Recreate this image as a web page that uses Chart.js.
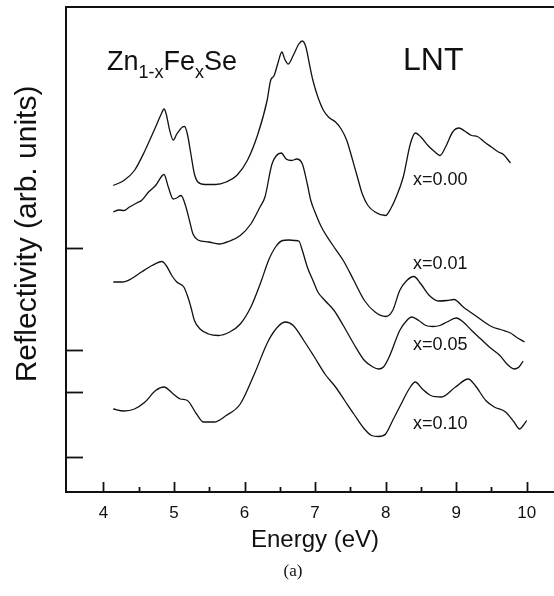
<!DOCTYPE html>
<html>
<head>
<meta charset="utf-8">
<script src="https://cdn.jsdelivr.net/npm/chart.js@4.4.1/dist/chart.umd.min.js"></script>
<style>
  html, body { margin: 0; padding: 0; background: #fff; overflow: hidden; }
  #wrap { width: 554px; height: 596px; overflow: hidden; }
</style>
</head>
<body>
<div id="wrap"><canvas id="reflChart" width="600" height="596"></canvas></div>
<script>
// Energy (eV) and reflectivity (arb. units, curves offset)
const energy00 = [4.14,4.29,4.44,4.59,4.74,4.82,4.86,4.89,4.94,4.99,5.04,5.12,5.15,5.19,5.24,5.29,5.34,5.44,5.59,5.74,5.89,6.04,6.19,6.32,6.37,6.42,6.47,6.53,6.57,6.62,6.69,6.77,6.82,6.87,6.92,6.97,7.04,7.12,7.19,7.29,7.37,7.45,7.52,7.60,7.67,7.75,7.85,8.00,8.07,8.15,8.25,8.35,8.42,8.50,8.60,8.70,8.77,8.85,8.95,9.04,9.12,9.22,9.30,9.40,9.50,9.60,9.67,9.77];
const refl00 = [61.3,62.3,64.3,68.3,73.0,75.6,76.6,75.6,72.3,70.4,71.6,73.0,73.1,71.6,67.6,63.6,62.0,61.5,61.5,62.0,63.3,66.3,71.6,78.3,82.3,83.3,85.6,88.0,86.6,85.6,87.3,89.6,90.2,89.0,85.6,82.3,79.0,76.3,75.0,74.0,72.6,70.3,67.0,63.0,59.6,57.3,56.0,55.3,56.6,59.0,63.0,69.6,71.8,71.0,69.3,68.0,67.3,69.0,72.0,72.8,72.2,71.3,71.1,70.0,69.0,68.0,67.5,65.8];

const energy01 = [4.14,4.22,4.29,4.37,4.47,4.54,4.64,4.74,4.86,4.92,4.99,5.04,5.10,5.17,5.22,5.27,5.34,5.49,5.64,5.79,5.94,6.09,6.22,6.29,6.39,6.52,6.59,6.67,6.74,6.82,6.89,6.94,6.99,7.09,7.24,7.40,7.55,7.70,7.85,8.00,8.10,8.20,8.30,8.40,8.50,8.62,8.75,8.87,8.97,9.10,9.30,9.50,9.65,9.77,9.85,9.97];
const refl01 = [56.0,56.4,56.3,57.0,57.8,58.3,60.0,61.3,63.5,61.0,58.6,58.8,59.3,57.0,54.3,51.6,50.4,50.0,49.6,50.2,51.3,53.6,57.0,59.0,65.6,67.8,66.6,66.3,66.6,65.6,61.6,58.3,56.3,53.0,49.6,46.3,42.3,38.3,36.0,35.1,36.3,40.3,42.3,43.1,41.6,39.3,38.2,38.3,38.5,37.0,35.0,33.1,32.4,31.8,31.0,30.0];

const energy05 = [4.14,4.27,4.39,4.54,4.69,4.83,4.89,4.97,5.04,5.14,5.19,5.24,5.29,5.37,5.49,5.63,5.79,5.94,6.09,6.24,6.34,6.44,6.54,6.62,6.72,6.77,6.82,6.89,6.97,7.04,7.14,7.27,7.40,7.55,7.70,7.82,7.90,7.97,8.05,8.20,8.30,8.37,8.47,8.57,8.67,8.77,8.87,9.00,9.10,9.22,9.35,9.47,9.62,9.72,9.82,9.89,9.95];
const refl05 = [42.0,42.0,42.6,44.0,45.3,46.1,45.3,43.3,42.0,41.0,39.3,37.0,34.3,32.6,31.6,31.3,32.0,33.6,37.0,42.3,46.3,49.0,50.3,50.4,50.3,50.2,48.3,45.0,42.3,40.0,38.3,36.3,33.3,29.6,26.3,25.0,24.6,25.0,27.0,32.3,34.3,35.0,34.3,33.3,33.1,33.3,34.0,34.8,34.0,32.3,30.6,29.0,27.3,25.6,24.6,25.0,26.2];

const energy10 = [4.14,4.29,4.44,4.59,4.74,4.86,4.99,5.09,5.19,5.32,5.42,5.57,5.74,5.94,6.14,6.34,6.49,6.58,6.69,6.84,6.99,7.14,7.29,7.42,7.55,7.70,7.80,7.90,8.00,8.10,8.22,8.35,8.42,8.52,8.64,8.79,8.99,9.17,9.27,9.42,9.54,9.70,9.82,9.90,9.95,10.00];
const refl10 = [16.6,16.2,16.6,18.0,20.3,21.0,19.6,18.6,18.3,15.6,14.0,14.0,15.3,17.6,23.6,30.3,33.3,34.0,33.3,30.3,27.0,23.6,21.0,18.3,15.6,12.6,11.3,11.1,11.6,14.3,17.6,21.0,22.0,20.6,19.3,19.0,21.0,22.6,21.3,18.3,17.0,16.0,14.0,12.6,13.3,14.3];

const seriesLabels = ['x=0.00', 'x=0.01', 'x=0.05', 'x=0.10'];
const xMajorTicks = [4, 5, 6, 7, 8, 9, 10];
const xMinorTicks = [4.5, 5.5, 6.5, 7.5, 8.5, 9.5];
const yMarks = [48.8, 28.4, 20.0, 7.1];

const SANS = '"Liberation Sans", Arial, Helvetica, sans-serif';

function toPoints(xs, ys) {
  const n = Math.min(xs.length, ys.length);
  const pts = [];
  for (let i = 0; i < n; i++) pts.push({ x: xs[i], y: ys[i] });
  return pts;
}

function lineSet(label, xs, ys) {
  return {
    label: label,
    data: toPoints(xs, ys),
    borderColor: '#111',
    borderWidth: 1.3,
    pointRadius: 0,
    fill: false,
    cubicInterpolationMode: 'monotone'
  };
}

// frame, inward ticks and all the text
const frameAndText = {
  id: 'frameAndText',
  afterDraw(chart) {
    const ctx = chart.ctx;
    const area = chart.chartArea;
    const xs = chart.scales.x;
    const ys = chart.scales.y;
    ctx.save();
    ctx.strokeStyle = '#111';
    ctx.fillStyle = '#111';

    ctx.lineWidth = 2;
    ctx.strokeRect(area.left, area.top, area.right - area.left, area.bottom - area.top);

    ctx.lineWidth = 1.8;
    xMajorTicks.forEach(v => {
      const px = Math.round(xs.getPixelForValue(v)) + 0.5;
      ctx.beginPath();
      ctx.moveTo(px, area.bottom);
      ctx.lineTo(px, area.bottom - 10);
      ctx.stroke();
    });
    xMinorTicks.forEach(v => {
      const px = Math.round(xs.getPixelForValue(v)) + 0.5;
      ctx.beginPath();
      ctx.moveTo(px, area.bottom);
      ctx.lineTo(px, area.bottom - 5);
      ctx.stroke();
    });
    yMarks.forEach(v => {
      const py = Math.round(ys.getPixelForValue(v)) + 0.5;
      ctx.beginPath();
      ctx.moveTo(area.left, py);
      ctx.lineTo(area.left + 17, py);
      ctx.stroke();
    });

    // x tick labels
    ctx.font = '17px ' + SANS;
    ctx.textAlign = 'center';
    ctx.textBaseline = 'alphabetic';
    xMajorTicks.forEach(v => {
      ctx.fillText(String(v), xs.getPixelForValue(v), area.bottom + 26);
    });

    // axis titles
    ctx.font = '24px ' + SANS;
    ctx.fillText('Energy (eV)', 315, 547);

    ctx.save();
    ctx.translate(36, 234);
    ctx.rotate(-Math.PI / 2);
    ctx.font = '30px ' + SANS;
    ctx.textAlign = 'center';
    ctx.fillText('Reflectivity (arb. units)', 0, 0);
    ctx.restore();

    // compound name with subscripts
    ctx.textAlign = 'left';
    let cx = 107;
    const parts = [['Zn', false], ['1-x', true], ['Fe', false], ['x', true], ['Se', false]];
    parts.forEach(p => {
      ctx.font = (p[1] ? '18px ' : '27px ') + SANS;
      ctx.fillText(p[0], cx, p[1] ? 78 : 70);
      cx += ctx.measureText(p[0]).width;
    });

    ctx.font = '32px ' + SANS;
    ctx.fillText('LNT', 403, 70);

    // curve labels
    const labelBase = [185, 269, 350, 429];
    ctx.font = '18px ' + SANS;
    seriesLabels.forEach((s, i) => ctx.fillText(s, 413, labelBase[i]));

    ctx.font = '17px "Liberation Serif", "Times New Roman", serif';
    ctx.textAlign = 'center';
    ctx.fillText('(a)', 293, 576);
    ctx.restore();
  }
};

new Chart(document.getElementById('reflChart'), {
  type: 'line',
  data: {
    datasets: [
      lineSet(seriesLabels[0], energy00, refl00),
      lineSet(seriesLabels[1], energy01, refl01),
      lineSet(seriesLabels[2], energy05, refl05),
      lineSet(seriesLabels[3], energy10, refl10)
    ]
  },
  options: {
    responsive: false,
    animation: false,
    layout: { padding: { left: 66, top: 7, right: 38, bottom: 104 } },
    scales: {
      x: { type: 'linear', min: 3.47, max: 10.5, display: false },
      y: { type: 'linear', min: 0, max: 97, display: false }
    },
    plugins: {
      legend: { display: false },
      tooltip: { enabled: false }
    }
  },
  plugins: [frameAndText]
});
</script>
</body>
</html>
